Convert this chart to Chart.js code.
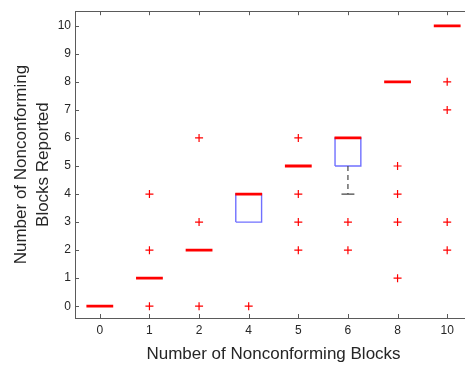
<!DOCTYPE html>
<html>
<head>
  <meta charset="UTF-8">
  <title>Nonconforming blocks boxplot</title>
  <script src="https://cdn.jsdelivr.net/npm/chart.js"></script>
  <style>
    html, body { margin: 0; padding: 0; background: #fff; overflow: hidden; }
    #wrap { width: 480px; height: 365px; }
  </style>
</head>
<body>
  <div id="wrap"><canvas id="chart" width="480" height="365"></canvas></div>

  <script>
    // data
    const categories = ["0", "1", "2", "4", "5", "6", "8", "10"];
    const medians = [0, 1, 2, 4, 5, 6, 8, 10];
    const q1 = [0, 1, 2, 3, 5, 5, 8, 10];
    const q3 = [0, 1, 2, 4, 5, 6, 8, 10];
    const lowerWhisker = [0, 1, 2, 3, 5, 4, 8, 10];
    const upperWhisker = [0, 1, 2, 4, 5, 6, 8, 10];
    const outliers = [[], [0, 2, 4], [0, 3, 6], [0], [2, 3, 4, 6], [2, 3], [1, 3, 4, 5], [2, 3, 7, 8]];
    const yTicks = [0, 1, 2, 3, 4, 5, 6, 7, 8, 9, 10];

    const boxHalf = 0.26;
    const medHalf = 0.27;
    const capHalf = 0.13;
    const axisColor = "#5a5a5a";
    const textColor = "#262626";
    const fontFamily = "'Liberation Sans', Arial, sans-serif";

    // higher order is drawn first, so medians (order 0) end up on top
    function lineSet(points, color, width, dash, order) {
      return {
        data: points,
        showLine: true,
        borderColor: color,
        borderWidth: width,
        borderDash: dash || [],
        pointRadius: 0,
        fill: false,
        tension: 0,
        order: order
      };
    }

    const datasets = [];
    categories.forEach((c, i) => {
      const x = i + 1;
      if (q3[i] > q1[i]) {
        datasets.push(lineSet([
          { x: x - boxHalf, y: q1[i] }, { x: x + boxHalf, y: q1[i] },
          { x: x + boxHalf, y: q3[i] }, { x: x - boxHalf, y: q3[i] },
          { x: x - boxHalf, y: q1[i] }
        ], "#7070ff", 1.4, null, 3));
      }
      if (lowerWhisker[i] < q1[i]) {
        datasets.push(lineSet([{ x: x, y: q1[i] }, { x: x, y: lowerWhisker[i] }], "#444", 1.2, [5, 4], 2));
        datasets.push(lineSet([{ x: x - capHalf, y: lowerWhisker[i] }, { x: x + capHalf, y: lowerWhisker[i] }], "#444", 1.2, null, 2));
      }
      if (upperWhisker[i] > q3[i]) {
        datasets.push(lineSet([{ x: x, y: q3[i] }, { x: x, y: upperWhisker[i] }], "#444", 1.2, [5, 4], 2));
        datasets.push(lineSet([{ x: x - capHalf, y: upperWhisker[i] }, { x: x + capHalf, y: upperWhisker[i] }], "#444", 1.2, null, 2));
      }
      datasets.push(lineSet([{ x: x - medHalf, y: medians[i] }, { x: x + medHalf, y: medians[i] }], "#ff0000", 2.8, null, 0));
    });
    const outlierPoints = [];
    outliers.forEach((vals, i) => vals.forEach(v => outlierPoints.push({ x: i + 1, y: v })));
    datasets.push({
      data: outlierPoints,
      showLine: false,
      pointStyle: "cross",
      pointRadius: 4,
      borderColor: "#ff0000",
      borderWidth: 1.2,
      order: 1
    });

    // box frame and inward tick marks, as MATLAB draws them
    const framePlugin = {
      id: "frame",
      afterDraw(chart) {
        const { ctx, chartArea: a, scales } = chart;
        ctx.save();
        ctx.strokeStyle = axisColor;
        ctx.lineWidth = 1;
        ctx.strokeRect(Math.round(a.left) + 0.5, Math.round(a.top) + 0.5,
          Math.round(a.right - a.left), Math.round(a.bottom - a.top));
        ctx.beginPath();
        scales.x.ticks.forEach(t => {
          const px = Math.round(scales.x.getPixelForValue(t.value)) + 0.5;
          ctx.moveTo(px, a.top); ctx.lineTo(px, a.top + 4);
          ctx.moveTo(px, a.bottom); ctx.lineTo(px, a.bottom - 4);
        });
        scales.y.ticks.forEach(t => {
          const py = Math.round(scales.y.getPixelForValue(t.value)) + 0.5;
          ctx.moveTo(a.left, py); ctx.lineTo(a.left + 4, py);
          ctx.moveTo(a.right, py); ctx.lineTo(a.right - 4, py);
        });
        ctx.stroke();
        ctx.restore();
      }
    };

    new Chart(document.getElementById("chart"), {
      type: "scatter",
      data: { datasets: datasets },
      options: {
        responsive: false,
        animation: false,
        layout: { padding: { top: 8, right: 8, left: 0, bottom: 0 } },
        scales: {
          x: {
            type: "linear",
            min: 0.5,
            max: 8.5,
            afterBuildTicks: s => { s.ticks = categories.map((c, i) => ({ value: i + 1 })); },
            afterFit: s => { s.height = 47; },
            grid: { display: false, drawTicks: false },
            border: { display: false },
            ticks: {
              padding: 5,
              color: textColor,
              font: { family: fontFamily, size: 12 },
              callback: v => categories[v - 1]
            },
            title: {
              display: true,
              text: "Number of Nonconforming Blocks",
              color: textColor,
              font: { family: fontFamily, size: 17, lineHeight: 1.2 },
              padding: { top: 0, bottom: 0 }
            }
          },
          y: {
            min: -0.42,
            max: 10.52,
            afterBuildTicks: s => { s.ticks = yTicks.map(v => ({ value: v })); },
            afterFit: s => { s.width = 75; },
            grid: { display: false, drawTicks: false },
            border: { display: false },
            ticks: {
              padding: 4,
              color: textColor,
              font: { family: fontFamily, size: 12 }
            },
            title: {
              display: true,
              text: ["Number of Nonconforming", "Blocks Reported"],
              color: textColor,
              font: { family: fontFamily, size: 17, lineHeight: 1.3 },
              padding: { top: 10, bottom: 0 }
            }
          }
        },
        plugins: {
          legend: { display: false },
          tooltip: { enabled: false }
        }
      },
      plugins: [framePlugin]
    });
  </script>
</body>
</html>
